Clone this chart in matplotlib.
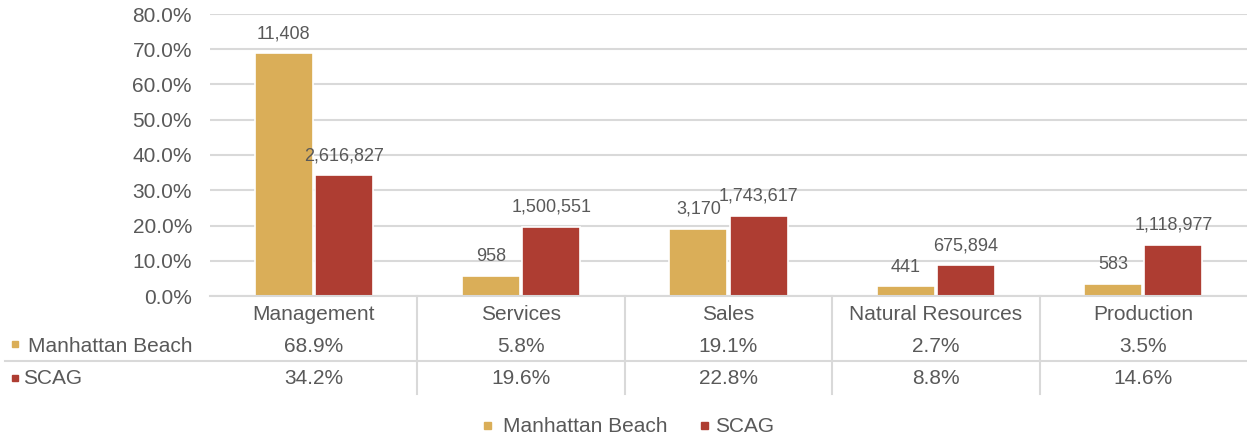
import matplotlib.pyplot as plt
from matplotlib.patches import Rectangle
from matplotlib.lines import Line2D
import matplotlib.transforms as mtransforms

categories = ["Management", "Services", "Sales", "Natural Resources", "Production"]
mb_pct = [68.9, 5.8, 19.1, 2.7, 3.5]
scag_pct = [34.2, 19.6, 22.8, 8.8, 14.6]
mb_count = ["11,408", "958", "3,170", "441", "583"]
scag_count = ["2,616,827", "1,500,551", "1,743,617", "675,894", "1,118,977"]
series = ["Manhattan Beach", "SCAG"]

gold = "#DAAE58"
red = "#AE3D32"
txt = "#595959"
grid = "#D9D9D9"

plt.rcParams["font.family"] = ["Liberation Sans", "DejaVu Sans"]

W, H = 1247, 437
fig = plt.figure(figsize=(W / 100, H / 100), dpi=100)


def fx(x):
    return x / W


def fy(y):
    return 1 - y / H


ax = fig.add_axes([fx(210), fy(296), fx(1247) - fx(210), fy(14) - fy(296)])
ax.set_xlim(-0.5, 4.5)
ax.set_ylim(0, 80)
ax.set_yticks(range(0, 81, 10))
ax.set_yticklabels([f"{v:.1f}%" for v in range(0, 81, 10)], fontsize=15, color=txt)
ax.tick_params(axis="y", length=0, pad=13)
ax.set_xticks([])
ax.grid(axis="y", color=grid, linewidth=1.5)
ax.set_axisbelow(True)
for s in ax.spines.values():
    s.set_visible(False)

x = range(len(categories))
off = 0.145
bw = 0.28
b1 = ax.bar([i - off for i in x], mb_pct, bw, color=gold, edgecolor="white", linewidth=1.2)
b2 = ax.bar([i + off for i in x], scag_pct, bw, color=red, edgecolor="white", linewidth=1.2)

for bars, labels in [(b1, mb_count), (b2, scag_count)]:
    for rect, lab in zip(bars, labels):
        ax.annotate(lab, (rect.get_x() + rect.get_width() / 2, rect.get_height()),
                    xytext=(0, 14), textcoords="offset points", ha="center", va="center",
                    fontsize=13, color=txt)

# data table under the plot
tr = mtransforms.blended_transform_factory(ax.transData, fig.transFigure)
fig.add_artist(Line2D([fx(210), fx(1247)], [fy(296), fy(296)], color=grid, linewidth=1.5))
fig.add_artist(Line2D([fx(5), fx(1247)], [fy(361), fy(361)], color=grid, linewidth=1.5))
for b in [0.5, 1.5, 2.5, 3.5]:
    ax.add_artist(Line2D([b, b], [fy(296), fy(394)], transform=tr, color=grid,
                         linewidth=1.5, clip_on=False))

for i, cat in enumerate(categories):
    ax.text(i, fy(314), cat, transform=tr, ha="center", va="center", fontsize=15, color=txt)
    ax.text(i, fy(346), f"{mb_pct[i]}%", transform=tr, ha="center", va="center", fontsize=15, color=txt)
    ax.text(i, fy(379), f"{scag_pct[i]}%", transform=tr, ha="center", va="center", fontsize=15, color=txt)

# row headers with colour keys
fig.add_artist(Rectangle((fx(12), fy(347)), fx(6), fy(341) - fy(347), color=gold))
fig.text(fx(28), fy(346), series[0], ha="left", va="center", fontsize=15, color=txt)
fig.add_artist(Rectangle((fx(12), fy(381)), fx(6), fy(375) - fy(381), color=red))
fig.text(fx(23), fy(379), series[1], ha="left", va="center", fontsize=15, color=txt)

# bottom legend
fig.add_artist(Rectangle((fx(484), fy(429)), fx(7), fy(422) - fy(429), color=gold))
fig.text(fx(503), fy(427), series[0], ha="left", va="center", fontsize=15, color=txt)
fig.add_artist(Rectangle((fx(701), fy(429)), fx(7), fy(422) - fy(429), color=red))
fig.text(fx(715), fy(427), series[1], ha="left", va="center", fontsize=15, color=txt)

fig.savefig("out.png", dpi=100, facecolor="white")
